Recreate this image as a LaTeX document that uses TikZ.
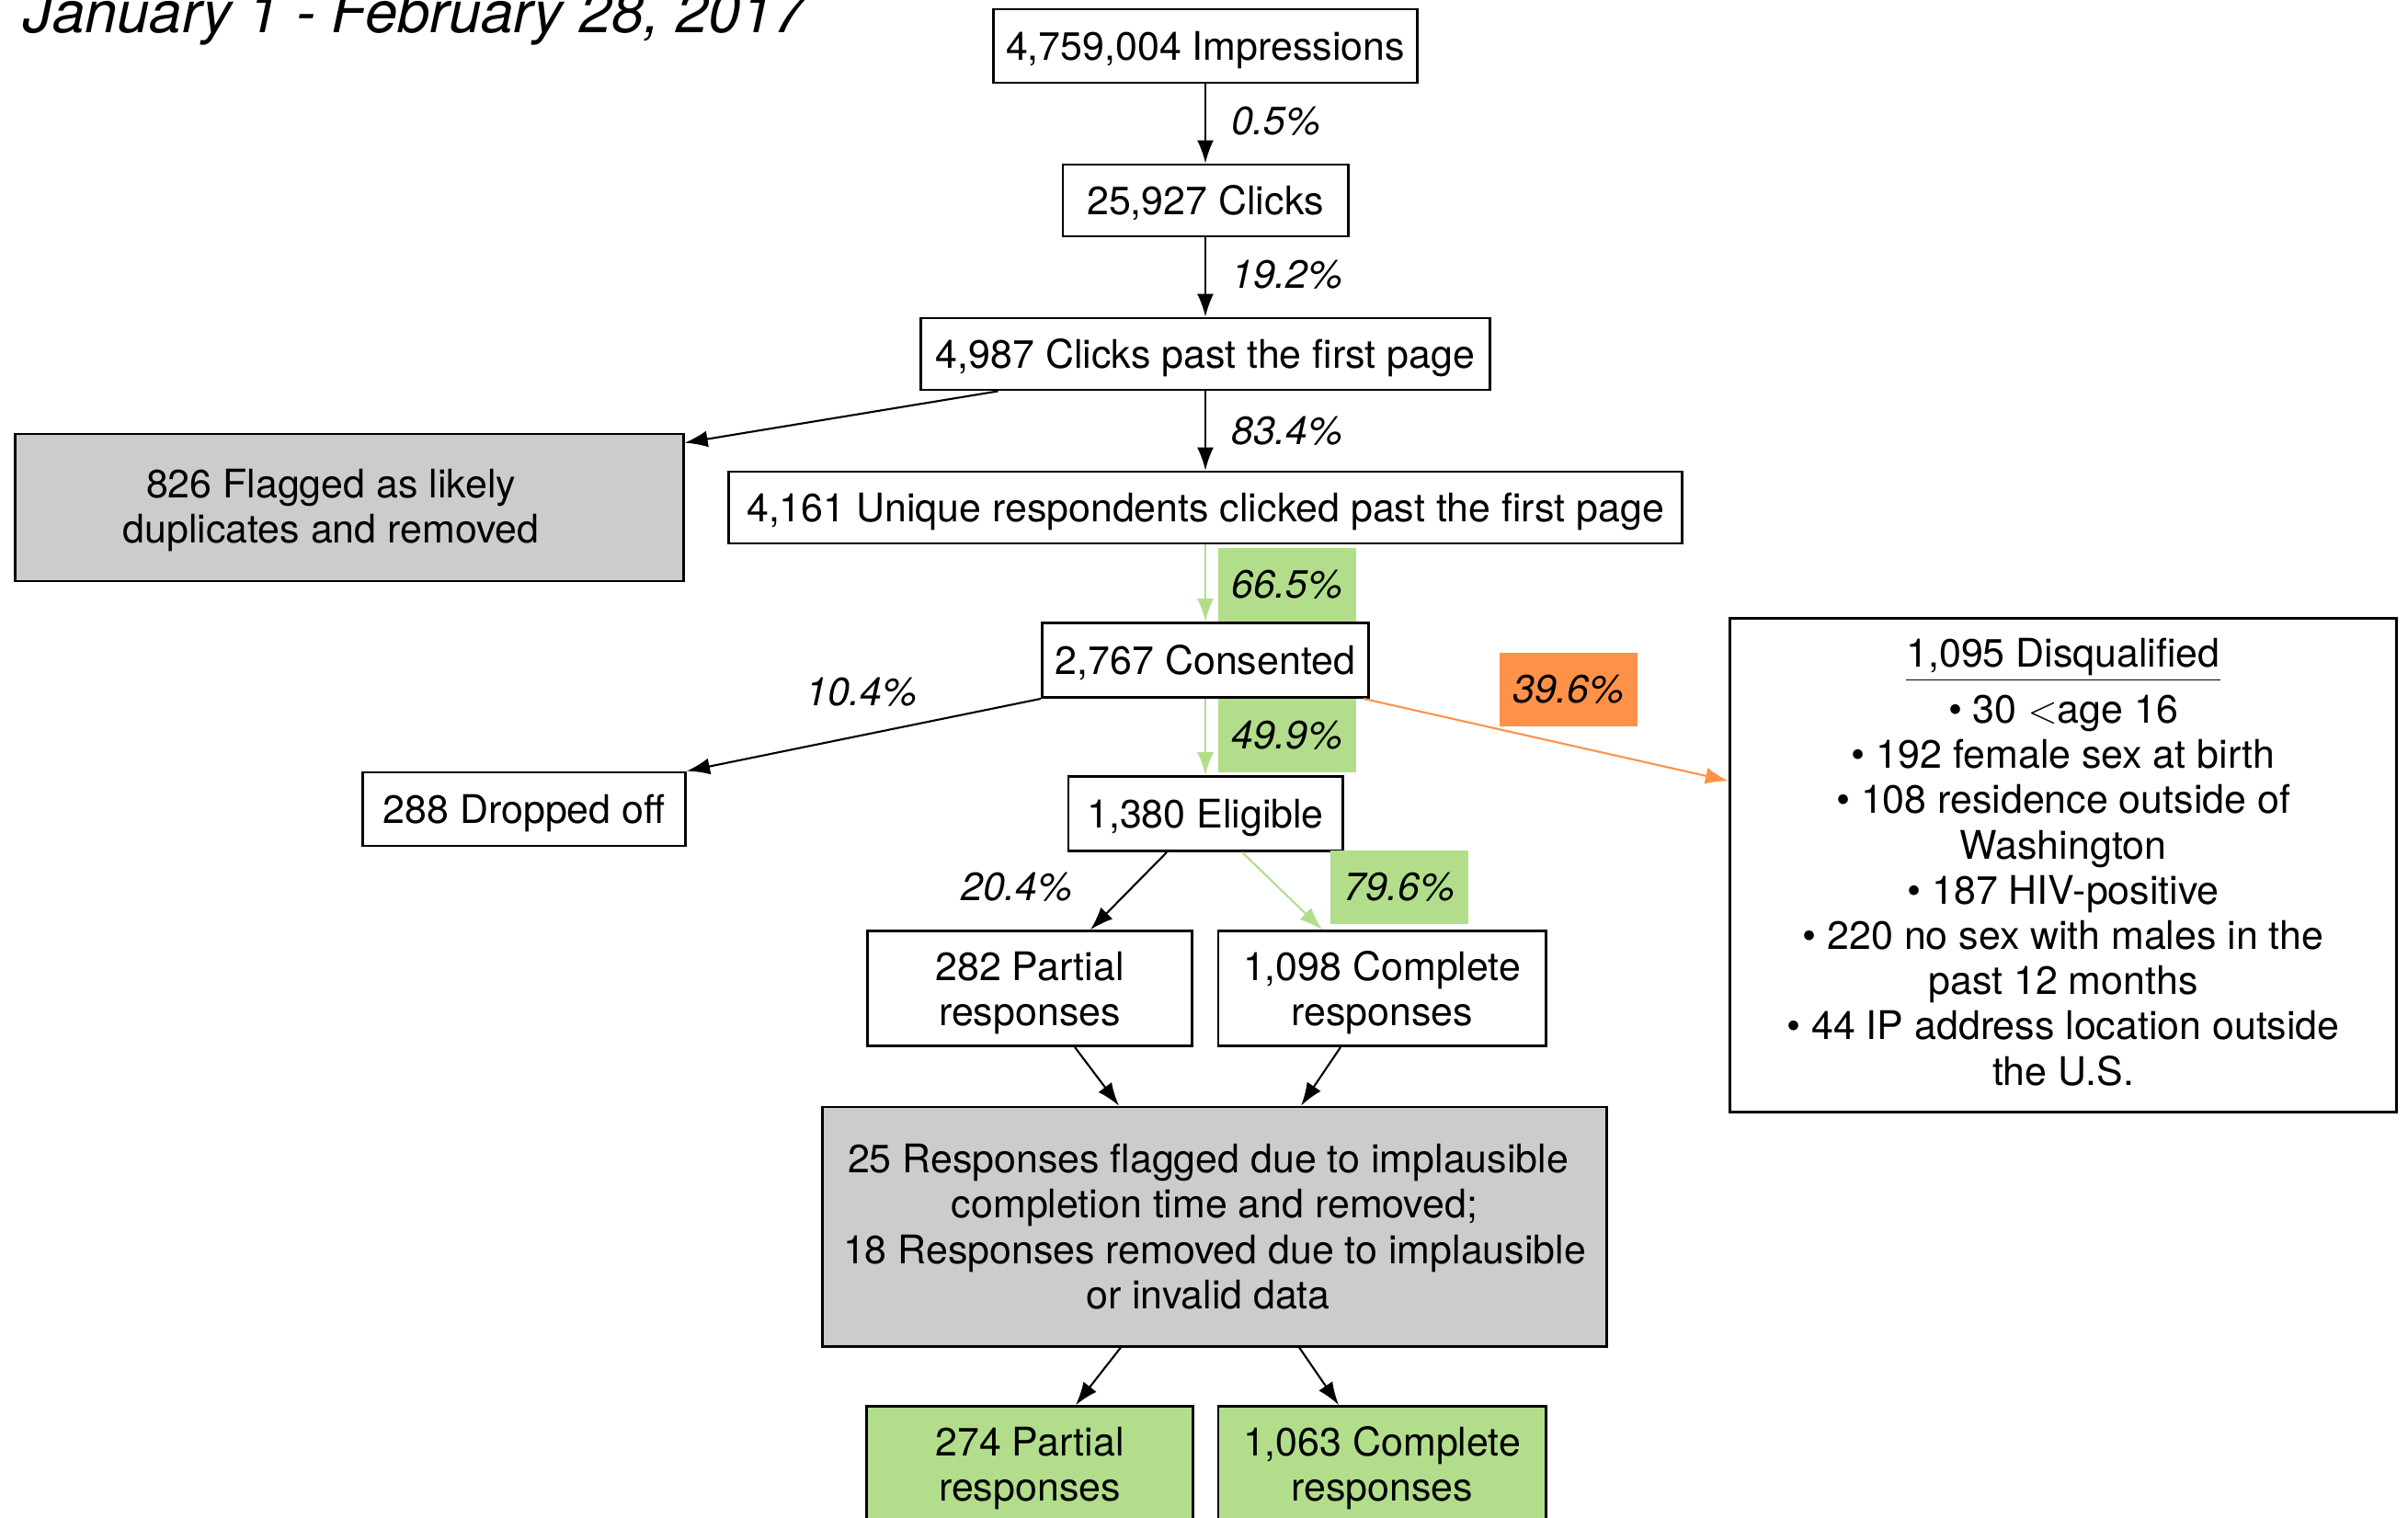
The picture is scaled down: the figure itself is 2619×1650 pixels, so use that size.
\documentclass[tikz,border=0pt]{standalone}
\usepackage{fontspec}
\setmainfont{TeX Gyre Heros}
\usetikzlibrary{arrows.meta,calc}
\definecolor{boxgray}{RGB}{204,204,204}
\definecolor{passgreen}{RGB}{178,222,140}
\definecolor{dqorange}{RGB}{255,146,72}
\newcommand{\flowfont}{\fontsize{12.2}{14}\selectfont}
\newcommand{\lineup}{\rule[-2.6pt]{0pt}{14.2pt}}
\tikzset{
  box/.style={draw, line width=0.8pt, inner sep=0pt, align=center, font=\flowfont},
  pct/.style={inner sep=0pt, font=\flowfont\itshape},
  tag/.style={pct, minimum width=1.49cm, minimum height=0.8cm},
  arr/.style={line width=0.6pt, -{Latex[length=2.5mm,width=1.8mm]}},
}
\begin{document}
\begin{tikzpicture}[x=0.01cm,y=-0.01cm]
\useasboundingbox (0,0) rectangle (2619,1650);
\node[anchor=base west, inner sep=0pt, font=\fontsize{18}{20}\selectfont\itshape] (title) at (25,35) {January 1 - February 28, 2017};
% main column
\node[box, minimum width=4.61cm, minimum height=0.8cm] (imp) at (1311,50) {\lineup 4,759,004 Impressions};
\node[box, minimum width=3.10cm, minimum height=0.78cm] (clk) at (1311,218) {\lineup 25,927 Clicks};
\node[box, minimum width=6.18cm, minimum height=0.78cm] (past) at (1311,385) {\lineup 4,987 Clicks past the first page};
\node[box, minimum width=10.37cm, minimum height=0.78cm] (uniq) at (1311,552) {\lineup 4,161 Unique respondents clicked past the first page};
\node[box, minimum width=3.55cm, minimum height=0.81cm] (cons) at (1311,718) {\lineup 2,767 Consented};
\node[box, minimum width=2.98cm, minimum height=0.81cm] (elig) at (1311,885) {\lineup 1,380 Eligible};
\node[box, minimum width=3.53cm, minimum height=1.25cm] (part) at (1120,1075) {\rule{0pt}{11.7pt}282 Partial\\responses};
\node[box, minimum width=3.56cm, minimum height=1.25cm] (comp) at (1503,1075) {\rule{0pt}{11.7pt}1,098 Complete\\responses};
\node[box, fill=boxgray, minimum width=8.52cm, minimum height=2.6cm] (flag) at (1321,1334) {25 Responses flagged due to implausible\hspace*{0.14cm}\\completion time and removed;\hspace*{0.14cm}\\18 Responses removed due to implausible\hspace*{0.14cm}\\or invalid data\hspace*{0.14cm}};
\node[box, fill=passgreen, minimum width=3.55cm, minimum height=1.25cm] (partok) at (1120,1592) {\rule{0pt}{11.7pt}274 Partial\\responses};
\node[box, fill=passgreen, minimum width=3.56cm, minimum height=1.25cm] (compok) at (1503,1592) {\rule{0pt}{11.7pt}1,063 Complete\\responses};
% side boxes
\node[box, fill=boxgray, minimum width=7.26cm, minimum height=1.6cm] (dup) at (380,552) {\rule{0pt}{10.8pt}826 Flagged as likely\hspace*{0.4cm}\\duplicates and removed\hspace*{0.4cm}};
\node[box, minimum width=3.51cm, minimum height=0.8cm] (drop) at (570,880) {\lineup 288 Dropped off};
\node[box, minimum width=7.25cm, minimum height=5.36cm] (disq) at (2244,941) {\underline{1,095 Disqualified}\\[3.3pt]
  • 30 $<$age 16\\• 192 female sex at birth\\• 108 residence outside of\\Washington\\• 187 HIV-positive\\
  • 220 no sex with males in the\\past 12 months\\• 44 IP address location outside\\the U.S.\rule[-2.2pt]{0pt}{0pt}};
% percentages
\node[pct] (p1) at (1388,132) {0.5\%};
\node[pct] (p2) at (1400,299) {19.2\%};
\node[pct] (p3) at (1400,469) {83.4\%};
\node[tag, fill=passgreen] (p4) at (1400,636) {66.5\%};
\node[tag, fill=passgreen] (p5) at (1400,800) {49.9\%};
\node[pct] (p6) at (937,753) {10.4\%};
\node[tag, fill=dqorange] (p7) at (1706,750) {39.6\%};
\node[pct] (p8) at (1106,965) {20.4\%};
\node[tag, fill=passgreen] (p9) at (1522,965) {79.6\%};
% arrows
\draw[arr] (imp) -- (clk);
\draw[arr] (clk) -- (past);
\draw[arr] (past) -- (uniq);
\draw[arr] ([xshift=0.85cm]past.south west) -- ([yshift=-0.11cm]dup.north east);
\draw[arr, passgreen] (uniq) -- (cons);
\draw[arr, passgreen] (cons) -- (elig);
\draw[arr] (cons.south west) -- (drop.north east);
\draw[arr, dqorange] ([xshift=-0.07cm]cons.south east) -- ($(disq.north west)!0.33!(disq.south west)$);
\draw[arr] ([xshift=-0.42cm]elig.south) -- ([xshift=0.66cm]part.north);
\draw[arr, passgreen] ([xshift=0.4cm]elig.south) -- ([xshift=-0.65cm]comp.north);
\draw[arr] ([xshift=0.49cm]part.south) -- ([xshift=-1.04cm]flag.north);
\draw[arr] ([xshift=-0.45cm]comp.south) -- ([xshift=0.94cm]flag.north);
\draw[arr] ([xshift=-1.02cm]flag.south) -- ([xshift=0.5cm]partok.north);
\draw[arr] ([xshift=0.92cm]flag.south) -- ([xshift=-0.47cm]compok.north);
\end{tikzpicture}
\end{document}
